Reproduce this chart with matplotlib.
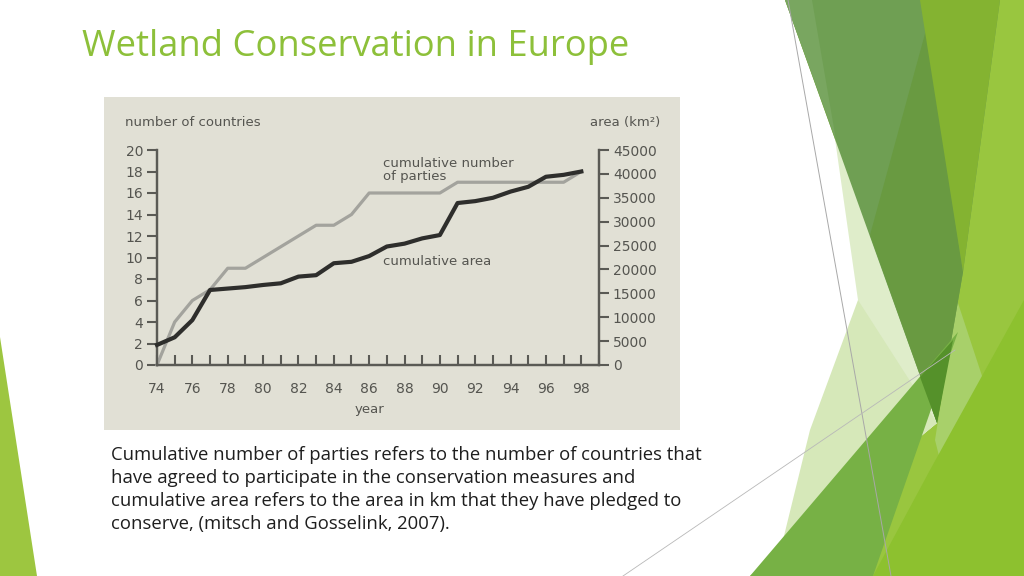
import matplotlib
matplotlib.use("Agg")
import matplotlib.pyplot as plt
from matplotlib.patches import Polygon, Rectangle
from matplotlib.ticker import FixedLocator

# ---- data ----
years = list(range(1974, 1999))
year_labels = ["74", "76", "78", "80", "82", "84", "86", "88", "90", "92", "94", "96", "98"]
parties = [0, 4, 6, 7, 9, 9, 10, 11, 12, 13, 13, 14, 16, 16, 16, 16, 16,
           17, 17, 17, 17, 17, 17, 17, 18]
area_km2 = [4200, 5800, 9400, 15700, 16000, 16300, 16750, 17100, 18500, 18800,
            21300, 21600, 22800, 24800, 25400, 26500, 27200, 33900, 34300,
            35000, 36300, 37300, 39400, 39800, 40500]
left_ticks = [0, 2, 4, 6, 8, 10, 12, 14, 16, 18, 20]
right_ticks = [0, 5000, 10000, 15000, 20000, 25000, 30000, 35000, 40000, 45000]

W, H = 1024, 576
fig = plt.figure(figsize=(W / 100, H / 100), dpi=100)
fig.patch.set_facecolor("white")

# ---- slide decoration (background axes in pixel coords) ----
bg = fig.add_axes([0, 0, 1, 1])
bg.set_xlim(0, W)
bg.set_ylim(H, 0)
bg.axis("off")

def poly(pts, color, z=1.0):
    bg.add_patch(Polygon(pts, closed=True, facecolor=color, edgecolor="none",
                         zorder=z))

# left sliver
poly([(0, 337), (37, 576), (0, 576)], "#9DC640")
# base lime for the right side
poly([(785, 0), (1024, 0), (1024, 576), (750, 576), (937, 423)], "#99C63F", 0.5)
# pale shapes
poly([(833, 125), (937, 423), (880, 470), (858, 300)], "#DFEDCA", 1)
poly([(858, 300), (937, 423), (790, 545), (783, 540), (810, 430)], "#D6E8B9", 1)
# lighter lime strip
poly([(957, 300), (985, 385), (945, 480), (935, 440)], "#A8D06A", 2)
# bright lime bottom right
poly([(1024, 300), (1024, 576), (873, 576), (930, 470)], "#8DC12F", 3)
# muted dark triangle
poly([(785, 0), (1000, 0), (963, 272), (937, 423)], "#6F9F53", 2)
poly([(785, 0), (812, 0), (836, 140)], "#79A660", 3)
poly([(926, 30), (963, 272), (937, 423), (870, 235)], "#699A41", 3)
# olive band
poly([(920, 0), (1000, 0), (963, 272)], "#84B331", 3)
# medium green
poly([(750, 576), (958, 332), (873, 576)], "#77B145", 4)
poly([(920, 377), (953, 340), (937, 423)], "#55912A", 5)

# thin gray lines
bg.plot([788, 891], [0, 576], color="#A8A8A8", lw=0.7, zorder=6)
bg.plot([623, 955], [576, 350], color="#B8B8B8", lw=0.6, zorder=6)

# chart panel background
bg.add_patch(Rectangle((104, 97), 576, 333, facecolor="#E1E0D5",
                       edgecolor="none", zorder=1))

# title
bg.text(82, 47, "Wetland Conservation in Europe", color="#8DC03A",
        fontsize=26.2, family="Open Sans", va="center", ha="left", zorder=7)

# caption
caption = ["Cumulative number of parties refers to the number of countries that",
           "have agreed to participate in the conservation measures and",
           "cumulative area refers to the area in km that they have pledged to",
           "conserve, (mitsch and Gosselink, 2007)."]
for i, line in enumerate(caption):
    bg.text(111, 455 + i * 23, line, color="#1E1E1E", fontsize=13.35,
            family="Open Sans", va="center", ha="left", zorder=7)

# ---- chart axes ----
x0, x1 = 157, 599
y0, y1 = 365, 150
ax = fig.add_axes([x0 / W, 1 - y0 / H, (x1 - x0) / W, (y0 - y1) / H])
ax.set_facecolor("none")
ax.set_xlim(1974, 1999)
ax.set_ylim(0, 20)
ax2 = ax.twinx()
ax2.set_ylim(0, 45000)

axc = "#5A5A55"
tc = "#555550"
for a in (ax, ax2):
    a.spines["top"].set_visible(False)
    for s in ("left", "right", "bottom"):
        a.spines[s].set_color(axc)
        a.spines[s].set_linewidth(1.6)

ax.plot(years, parties, color="#A3A39D", lw=2.3, zorder=3, clip_on=False)
ax2.plot(years, area_km2, color="#2E2E2C", lw=3.0, zorder=4, clip_on=False)

ax.set_yticks(left_ticks)
ax.set_yticklabels([str(v) for v in left_ticks])
ax.tick_params(axis="y", direction="out", length=7, width=1.5, color=axc,
               labelsize=10, labelcolor=tc, pad=3)
ax.xaxis.set_major_locator(FixedLocator([1974 + 2 * i for i in range(13)]))
ax.xaxis.set_minor_locator(FixedLocator(list(range(1974, 2000))))
ax.set_xticklabels(year_labels)
ax.tick_params(axis="x", which="both", direction="in", length=7, width=1.5,
               color=axc, labelsize=10, labelcolor=tc, pad=12)
ax2.set_yticks(right_ticks)
ax2.set_yticklabels([str(v) for v in right_ticks])
ax2.tick_params(axis="y", direction="out", length=7, width=1.5, color=axc,
                labelsize=10, labelcolor=tc, pad=3)

ax.text(1986, -4.1, "year", color=tc, fontsize=9.5, ha="center", va="center")
ax.text(1972.2, 22.6, "number of countries", color=tc, fontsize=9.5,
        ha="left", va="center", clip_on=False)
ax.text(1998.5, 22.6, "area (km²)", color=tc, fontsize=9.5,
        ha="left", va="center", clip_on=False)
ax.text(1986.8, 18.15, "cumulative number\nof parties", color=tc, fontsize=9.5,
        ha="left", va="center", linespacing=0.95)
ax.text(1986.8, 9.6, "cumulative area", color=tc, fontsize=9.5,
        ha="left", va="center")

fig.savefig("out.png", dpi=100, facecolor="white")
